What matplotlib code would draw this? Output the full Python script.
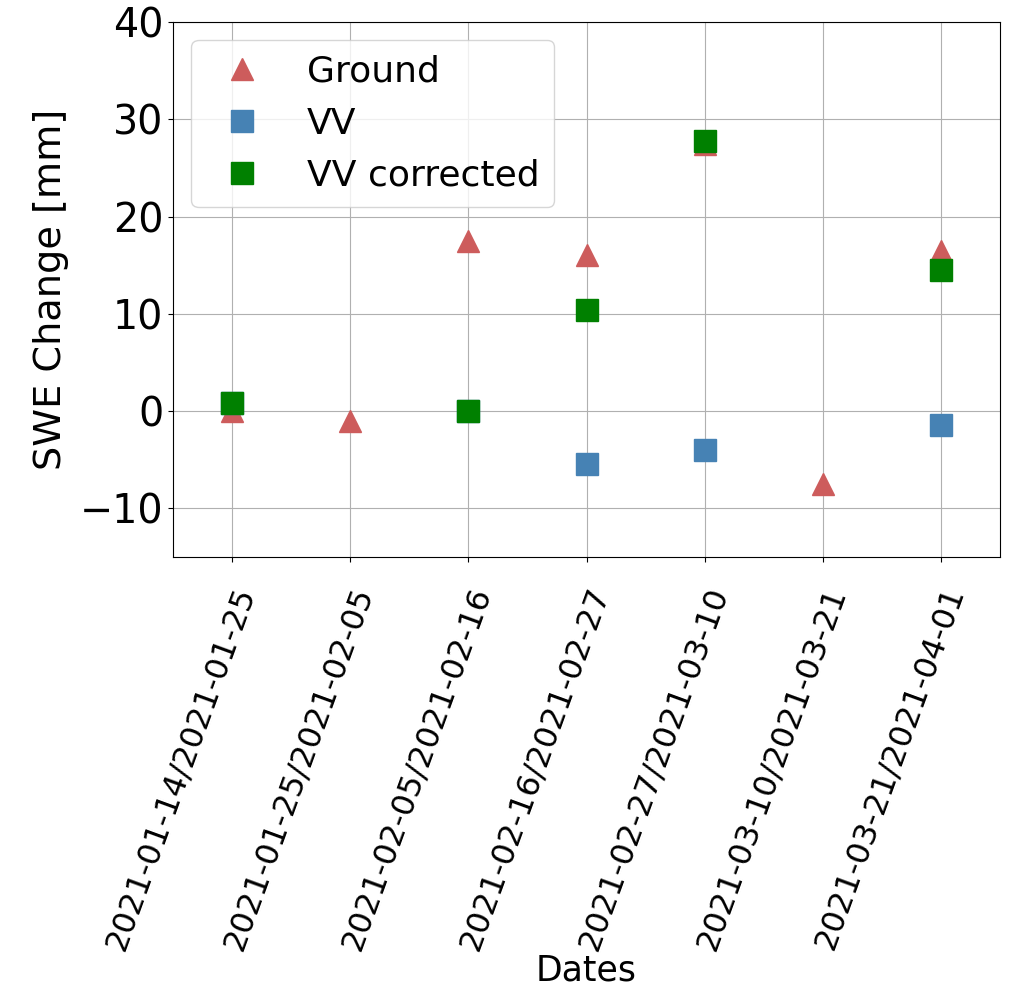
import matplotlib
matplotlib.use("Agg")
import matplotlib.pyplot as plt
import numpy as np

# Data
dates = ['2021-01-14/2021-01-25', '2021-01-25/2021-02-05', '2021-02-05/2021-02-16',
         '2021-02-16/2021-02-27', '2021-02-27/2021-03-10', '2021-03-10/2021-03-21',
         '2021-03-21/2021-04-01']
ground = [0.0, -1.0, 17.5, 16.0, 27.5, -7.5, 16.5]
vv = [0.8, np.nan, 0.0, -5.5, -4.0, np.nan, -1.4]
vv_corrected = [0.8, np.nan, 0.0, 10.4, 27.8, np.nan, 14.5]

plt.rcParams.update({'font.size': 26})

fig = plt.figure(figsize=(10.13, 10.05), dpi=100)
ax = fig.add_axes([0.171, 0.446, 0.816, 0.532])

x = np.arange(len(dates))
ax.plot(x, ground, '^', color='indianred', markersize=16, label='Ground')
ax.plot(x, vv, 's', color='steelblue', markersize=16, label='VV')
ax.plot(x, vv_corrected, 's', color='green', markersize=16, label='VV corrected')

ax.set_xticks(x)
ax.set_xticklabels(dates, rotation=70, fontsize=23, ha='right', rotation_mode='anchor')
ax.tick_params(axis='x', pad=15)
ax.tick_params(axis='y', labelsize=28.5)
ax.set_xlim(-0.5, 6.5)
ax.set_ylim(-15, 40)
ax.set_ylabel('SWE Change [mm]', fontsize=27.5, labelpad=8)
ax.set_xlabel('Dates', fontsize=25, labelpad=0)
ax.grid(True)
ax.legend(loc='upper left', fontsize=26)

fig.savefig('out.png', dpi=100)
